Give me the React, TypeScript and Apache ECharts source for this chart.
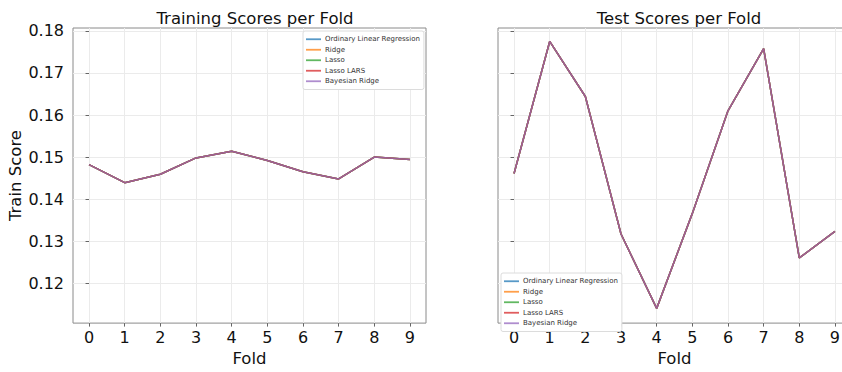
import React, { useEffect, useRef } from "react";
import * as echarts from "echarts";

const folds = [0, 1, 2, 3, 4, 5, 6, 7, 8, 9];
const modelNames = ["Ordinary Linear Regression", "Ridge", "Lasso", "Lasso LARS", "Bayesian Ridge"];
const trainScores = [0.1482, 0.1439, 0.1459, 0.1498, 0.1514, 0.1492, 0.1465, 0.1448, 0.15, 0.1494];
const testScores = [0.1461, 0.1775, 0.1644, 0.1317, 0.114, 0.1366, 0.161, 0.1758, 0.126, 0.1323];
const yTicks = [0.12, 0.13, 0.14, 0.15, 0.16, 0.17, 0.18];
const xTicks = folds;
const modelColors = ["#1f77b4", "#ff7f0e", "#2ca02c", "#d62728", "#9467bd"];

const FONT = "DejaVu Sans";

export default function App() {
  const ref = useRef<HTMLDivElement>(null);
  useEffect(() => {
    if (!ref.current) return;
    const chart = echarts.init(ref.current, null, { renderer: "svg" });
    const gridLine = { show: true, lineStyle: { color: "#ebebeb", width: 1 } };
    const tick = { show: true, length: 3.5, lineStyle: { color: "#666", width: 1 } };
    const mkX = (gi: number) => ({
      type: "value",
      gridIndex: gi,
      min: -0.45,
      max: 9.45,
      axisLine: { show: false },
      axisTick: { ...tick, customValues: xTicks },
      axisLabel: {
        customValues: xTicks,
        fontFamily: FONT,
        fontSize: 16,
        color: "#111",
        margin: 6,
      },
      splitLine: gridLine,
      name: "Fold",
      nameLocation: "middle",
      nameGap: 25,
      nameTextStyle: { fontFamily: FONT, fontSize: 16.5, color: "#111" },
    });
    const mkY = (gi: number, labels: boolean) => ({
      type: "value",
      gridIndex: gi,
      min: 0.1105,
      max: 0.1807,
      axisLine: { show: false },
      axisTick: { ...tick, customValues: yTicks },
      axisLabel: {
        show: labels,
        customValues: yTicks,
        formatter: (v: number) => v.toFixed(2),
        fontFamily: FONT,
        fontSize: 16,
        color: "#111",
        margin: 9,
      },
      splitLine: gridLine,
      name: labels ? "Train Score" : "",
      nameLocation: "middle",
      nameRotate: 90,
      nameGap: 46,
      nameTextStyle: { fontFamily: FONT, fontSize: 16.5, color: "#111" },
    });
    const mkSeries = (gi: number, vals: number[]) =>
      modelNames.map((name, k) => ({
        type: "line",
        name,
        xAxisIndex: gi,
        yAxisIndex: gi,
        data: folds.map((f, i) => [f, vals[i]]),
        showSymbol: false,
        symbol: "none",
        lineStyle: { color: modelColors[k], width: 1.5, opacity: 0.75 },
        itemStyle: { color: modelColors[k], opacity: 0.75 },
      }));
    const legendCommon = {
      orient: "vertical",
      icon: "rect",
      itemWidth: 15,
      itemHeight: 1.8,
      itemGap: 0,
      padding: [3, 4, 3, 3],
      backgroundColor: "#ffffff",
      borderColor: "#dcdcdc",
      borderWidth: 1,
      borderRadius: 2,
      textStyle: { fontFamily: FONT, fontSize: 7, color: "#333", lineHeight: 10.5, padding: [0, 0, 0, -1] },
      data: modelNames,
    };
    chart.setOption({
      animation: false,
      backgroundColor: "#ffffff",
      title: [
        {
          text: "Training Scores per Fold",
          left: 250,
          top: 5,
          textAlign: "center",
          textStyle: { fontFamily: FONT, fontSize: 16.5, fontWeight: "normal", color: "#111" },
        },
        {
          text: "Test Scores per Fold",
          left: 674,
          top: 5,
          textAlign: "center",
          textStyle: { fontFamily: FONT, fontSize: 16.5, fontWeight: "normal", color: "#111" },
        },
      ],
      legend: [
        { ...legendCommon, left: 303, top: 31 },
        { ...legendCommon, left: 501, top: 273 },
      ],
      grid: [
        { left: 73, top: 28, width: 353, height: 303, show: true, borderColor: "#8a8a8a", borderWidth: 1, containLabel: false },
        { left: 498, top: 28, width: 353, height: 303, show: true, borderColor: "#8a8a8a", borderWidth: 1, containLabel: false },
      ],
      xAxis: [mkX(0), mkX(1)],
      yAxis: [mkY(0, true), mkY(1, false)],
      series: [...mkSeries(0, trainScores), ...mkSeries(1, testScores)],
    });
    return () => chart.dispose();
  }, []);
  return (
    <div style={{ position: "fixed", left: 0, top: 0, width: 842, height: 372, overflow: "hidden" }}>
      <div ref={ref} style={{ width: 870, height: 372 }} />
    </div>
  );
}
